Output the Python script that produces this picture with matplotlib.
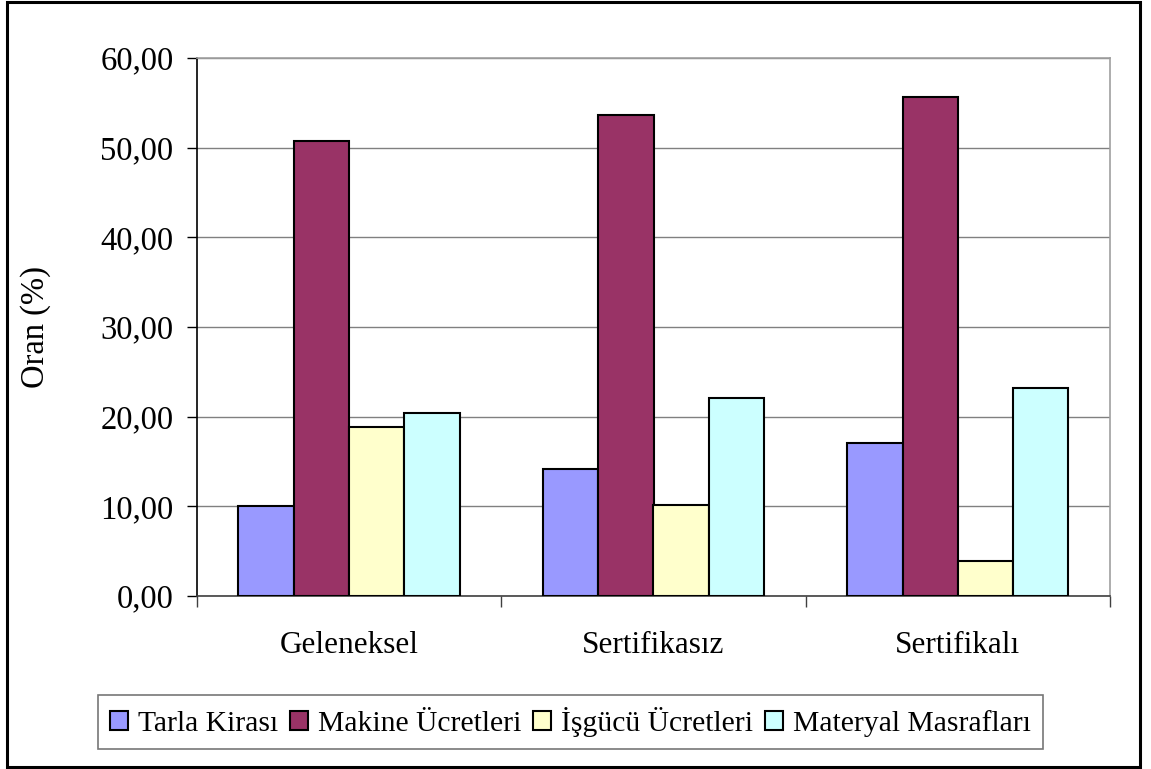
import numpy as np
import matplotlib.pyplot as plt
from matplotlib.patches import Rectangle
from matplotlib.ticker import FuncFormatter, FixedLocator

# Maliyet kalemlerinin toplam içindeki payları (%)
categories = ['Geleneksel', 'Sertifikasız', 'Sertifikalı']
series_names = ['Tarla Kirası', 'Makine Ücretleri', 'İşgücü Ücretleri', 'Materyal Masrafları']
tarla_kirasi = [10.0, 14.2, 17.1]
makine_ucretleri = [50.7, 53.6, 55.6]
isgucu_ucretleri = [18.9, 10.2, 3.9]
materyal_masraflari = [20.4, 22.1, 23.2]
colors = ['#9999FF', '#993366', '#FFFFCC', '#CCFFFF']

plt.rcParams['font.family'] = ['Liberation Serif', 'DejaVu Serif']
plt.rcParams['font.size'] = 22


def comma_fmt(v, pos):
    return f'{v:.2f}'.replace('.', ',')


def main():
    fig = plt.figure(figsize=(11.51, 7.69), dpi=100)
    ax = fig.add_axes([197 / 1151, 1 - 596 / 769, 913 / 1151, 538 / 769])

    all_series = [tarla_kirasi, makine_ucretleri, isgucu_ucretleri, materyal_masraflari]
    x = np.arange(len(categories))
    width = 1 / 5.5
    for i, (name, vals) in enumerate(zip(series_names, all_series)):
        ax.bar(x + (i - 1.5) * width, vals, width, color=colors[i],
               edgecolor='black', linewidth=1.5, label=name, zorder=3)

    ax.set_xlim(-0.5, len(categories) - 0.5)
    ax.set_ylim(0, 60)
    ax.set_yticks(np.arange(0, 61, 10))
    ax.yaxis.set_major_formatter(FuncFormatter(comma_fmt))
    ax.yaxis.grid(True, color='#808080', linewidth=1.0, zorder=0)

    # kategori sınırlarında tik, etiketler ortada
    ax.xaxis.set_major_locator(FixedLocator(np.arange(len(categories) + 1) - 0.5))
    ax.xaxis.set_minor_locator(FixedLocator(x))
    ax.set_xticklabels([])
    ax.set_xticklabels(categories, minor=True, fontsize=22.5)
    ax.tick_params(axis='x', which='major', length=8, width=1, color='#404040')
    ax.tick_params(axis='x', which='minor', length=0, pad=25)
    ax.tick_params(axis='y', length=7, width=1, pad=10, labelsize=23.5)

    for side in ['top', 'right']:
        ax.spines[side].set_color('#A0A0A0')
        ax.spines[side].set_linewidth(1.2)
    ax.spines['left'].set_color('black')
    ax.spines['bottom'].set_color('#404040')
    ax.spines['left'].set_linewidth(1.2)
    ax.spines['bottom'].set_linewidth(1.2)

    ax.set_ylabel('Oran (%)', fontsize=23.5)
    ax.yaxis.set_label_coords(-0.16, 0.5)

    leg = fig.legend(loc='center', bbox_to_anchor=(0.4957, 1 - 722 / 769), ncol=4,
                     frameon=True, fancybox=False, handlelength=0.6, handleheight=0.6,
                     handletextpad=0.35, columnspacing=0.4, borderpad=0.4,
                     fontsize=21.3)
    leg.get_frame().set_edgecolor('#555555')
    leg.get_frame().set_linewidth(1.2)

    fig.patches.append(Rectangle((7 / 1151, 2 / 769), 1133 / 1151, 765 / 769,
                                 transform=fig.transFigure, fill=False,
                                 edgecolor='black', linewidth=2.2))

    fig.savefig('out.png', dpi=100)


if __name__ == '__main__':
    main()
